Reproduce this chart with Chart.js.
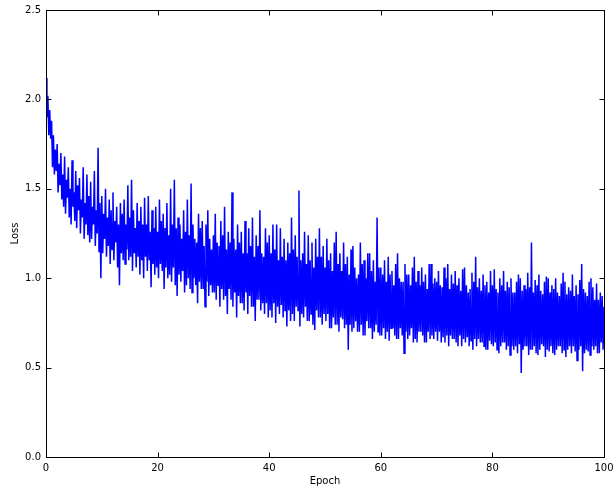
<!DOCTYPE html>
<html>
<head>
<meta charset="utf-8">
<script src="https://cdn.jsdelivr.net/npm/chart.js@4/dist/chart.umd.min.js"></script>
<style>
html,body{margin:0;padding:0;background:#fff;}
#wrap{width:614px;height:491px;position:relative;}
</style>
</head>
<body>
<div id="wrap"><canvas id="c" width="614" height="491"></canvas></div>
<script>
// Loss values, 6 samples per epoch (epoch 0 .. 100)
const lossValues = [
2.12,1.90,2.02,1.80,1.94,1.78, 1.88,1.62,1.80,1.58,1.72,1.60, 1.75,1.48,1.64,1.52,1.70,1.44, 1.58,1.40,1.68,1.36,1.55,1.45, 1.62,1.34,1.50,1.30,1.66,1.40,
1.48,1.32,1.60,1.28,1.52,1.38, 1.56,1.25,1.44,1.34,1.62,1.22, 1.42,1.30,1.58,1.24,1.46,1.20, 1.54,1.22,1.40,1.30,1.60,1.18, 1.38,1.25,1.73,1.15,1.42,1.00,
1.46,1.14,1.36,1.22,1.50,1.12, 1.34,1.18,1.44,1.08,1.38,1.16, 1.48,1.10,1.32,1.20,1.40,1.06, 1.30,0.96,1.42,1.14,1.36,1.10, 1.44,1.08,1.30,1.16,1.52,1.10,
1.34,1.12,1.55,1.04,1.38,1.14, 1.28,1.06,1.42,1.12,1.32,1.02, 1.40,1.10,1.30,1.00,1.45,1.12, 1.30,1.04,1.46,1.10,1.26,0.95, 1.38,1.08,1.28,1.02,1.40,1.06,
1.26,1.00,1.44,1.08,1.32,1.04, 1.36,0.94,1.28,1.06,1.42,1.00, 1.24,1.02,1.50,0.98,1.30,1.06, 1.55,0.96,1.28,0.90,1.34,1.02, 1.30,0.98,1.22,1.04,1.38,0.92,
1.26,0.96,1.44,1.00,1.24,0.94, 1.53,0.92,1.30,1.00,1.22,0.96, 1.20,0.86,1.36,0.98,1.28,0.94, 1.32,0.94,1.18,0.84,1.30,0.98, 1.38,0.90,1.22,0.96,1.16,0.92,
1.24,0.92,1.36,0.88,1.20,0.96, 1.18,0.84,1.32,0.94,1.24,0.88, 1.40,0.90,1.16,0.80,1.26,0.94, 1.20,0.88,1.48,0.84,1.22,0.92, 1.16,0.78,1.30,0.90,1.20,0.86,
1.26,0.86,1.14,0.82,1.32,0.92, 1.14,0.80,1.28,0.90,1.18,0.84, 1.34,0.84,1.12,0.76,1.24,0.88, 1.18,0.88,1.38,0.82,1.14,0.86, 1.12,0.80,1.28,0.86,1.20,0.78,
1.24,0.82,1.14,0.78,1.30,0.86, 1.16,0.75,1.30,0.84,1.10,0.80, 1.28,0.85,1.12,0.78,1.22,0.82, 1.10,0.73,1.20,0.82,1.14,0.76, 1.34,0.80,1.16,0.76,1.24,0.84,
1.12,0.82,1.49,0.73,1.10,0.80, 1.14,0.78,1.26,0.84,1.08,0.76, 1.24,0.76,1.10,0.80,1.20,0.74, 1.06,0.71,1.22,0.82,1.12,0.78, 1.28,0.78,1.12,0.74,1.18,0.80,
1.06,0.76,1.22,0.80,1.10,0.72, 1.14,0.72,1.04,0.78,1.20,0.74, 1.26,0.74,1.08,0.70,1.14,0.78, 1.04,0.77,1.20,0.72,1.08,0.74, 1.12,0.60,1.02,0.74,1.16,0.70,
1.18,0.72,1.06,0.76,1.00,0.70, 1.02,0.70,1.20,0.74,1.08,0.68, 1.10,0.68,1.00,0.76,1.14,0.72, 1.14,0.72,1.04,0.66,1.10,0.70, 0.98,0.74,1.34,0.70,1.06,0.68,
1.06,0.68,1.02,0.72,1.10,0.66, 0.98,0.70,1.12,0.65,1.02,0.72, 1.04,0.72,0.96,0.68,1.08,0.66, 1.14,0.66,1.00,0.72,0.98,0.68, 0.98,0.58,1.08,0.70,1.02,0.66,
1.02,0.68,0.96,0.72,1.06,0.64, 1.12,0.66,0.98,0.64,1.04,0.70, 0.96,0.70,1.06,0.68,0.98,0.64, 1.02,0.64,0.94,0.70,1.08,0.66, 1.08,0.68,0.97,0.66,1.00,0.70,
0.98,0.65,1.04,0.70,0.96,0.64, 0.95,0.67,1.06,0.64,1.00,0.68, 1.08,0.62,0.94,0.68,1.02,0.66, 0.97,0.66,1.04,0.64,0.96,0.62, 1.00,0.68,0.93,0.62,1.05,0.66,
1.06,0.64,0.96,0.67,0.92,0.62, 0.94,0.65,1.03,0.60,0.98,0.66, 1.12,0.62,0.95,0.66,1.00,0.64, 0.93,0.64,1.02,0.62,0.96,0.60, 0.98,0.60,0.92,0.65,1.04,0.63,
0.96,0.62,1.05,0.64,0.94,0.60, 0.92,0.58,1.00,0.62,0.96,0.64, 1.04,0.64,0.93,0.60,0.98,0.62, 0.95,0.57,1.00,0.62,0.92,0.60, 0.92,0.62,0.98,0.58,1.02,0.63,
1.00,0.47,0.93,0.60,0.96,0.62, 0.94,0.62,1.03,0.57,0.95,0.60, 1.20,0.60,0.92,0.62,0.99,0.58, 0.96,0.57,1.02,0.60,0.93,0.63, 0.91,0.62,0.98,0.56,1.01,0.60,
1.00,0.59,0.92,0.62,0.96,0.58, 0.94,0.57,1.00,0.60,0.92,0.62, 0.90,0.62,0.97,0.58,1.03,0.60, 0.98,0.56,0.91,0.60,0.95,0.62, 0.93,0.58,1.02,0.62,0.90,0.59,
0.96,0.54,0.91,0.60,0.99,0.62, 1.08,0.48,0.94,0.58,0.92,0.60, 0.90,0.59,0.98,0.57,1.00,0.62, 0.95,0.60,0.88,0.62,0.97,0.58, 0.88,0.58,0.92,0.64,0.90,0.60,
0.84
];
const samplesPerEpoch = 6;
const xTicks = [0, 20, 40, 60, 80, 100];
const yTicks = [0.0, 0.5, 1.0, 1.5, 2.0, 2.5];
const xLabel = "Epoch";
const yLabel = "Loss";

const points = lossValues.map((v, i) => ({x: i / samplesPerEpoch, y: v}));

const FONT = "'DejaVu Sans', sans-serif";
const FSIZE = 10;

const frame = {
  id: 'frame',
  afterDraw(chart) {
    const {ctx, chartArea: a, scales: {x, y}} = chart;
    ctx.save();
    ctx.strokeStyle = '#000';
    ctx.lineWidth = 1;
    const L = Math.round(a.left) + 0.5, R = Math.round(a.right) + 0.5;
    const T = Math.round(a.top) + 0.5, B = Math.round(a.bottom) + 0.5;
    ctx.strokeRect(L, T, R - L, B - T);
    const tl = 5;
    ctx.beginPath();
    xTicks.forEach(t => {
      const px = Math.round(x.getPixelForValue(t)) + 0.5;
      ctx.moveTo(px, B); ctx.lineTo(px, B - tl);
      ctx.moveTo(px, T); ctx.lineTo(px, T + tl);
    });
    yTicks.forEach(t => {
      const py = Math.round(y.getPixelForValue(t)) + 0.5;
      ctx.moveTo(L, py); ctx.lineTo(L + tl, py);
      ctx.moveTo(R, py); ctx.lineTo(R - tl, py);
    });
    ctx.stroke();
    ctx.restore();
  }
};

new Chart(document.getElementById('c'), {
  type: 'line',
  data: {
    datasets: [{
      data: points,
      borderColor: '#0000ff',
      borderWidth: 1.5,
      borderJoinStyle: 'miter',
      pointRadius: 0,
      tension: 0,
      fill: false
    }]
  },
  options: {
    responsive: false,
    animation: false,
    devicePixelRatio: 1,
    layout: {padding: {top: 10, right: 10, left: 0, bottom: 0}},
    plugins: {legend: {display: false}, tooltip: {enabled: false}},
    scales: {
      x: {
        type: 'linear', min: 0, max: 100,
        grid: {display: false, drawTicks: false},
        border: {display: false},
        afterBuildTicks: s => { s.ticks = xTicks.map(v => ({value: v})); },
        ticks: {color: '#000', font: {family: FONT, size: FSIZE}, padding: 5,
                maxRotation: 0, callback: v => String(v)},
        title: {display: true, text: xLabel, color: '#000', font: {family: FONT, size: FSIZE}, padding: {top: 0, bottom: 4}},
        afterFit: s => { s.height = 34; s.paddingLeft = 0; s.paddingRight = 0; }
      },
      y: {
        type: 'linear', min: 0, max: 2.5,
        grid: {display: false, drawTicks: false},
        border: {display: false},
        afterBuildTicks: s => { s.ticks = yTicks.map(v => ({value: v})); },
        ticks: {color: '#000', font: {family: FONT, size: FSIZE}, padding: 5,
                callback: v => Number(v).toFixed(1)},
        title: {display: true, text: yLabel, color: '#000', font: {family: FONT, size: FSIZE}, padding: {top: 9, bottom: 0}},
        afterFit: s => { s.width = 46; s.paddingTop = 0; s.paddingBottom = 0; }
      }
    }
  },
  plugins: [frame]
});
</script>
</body>
</html>
